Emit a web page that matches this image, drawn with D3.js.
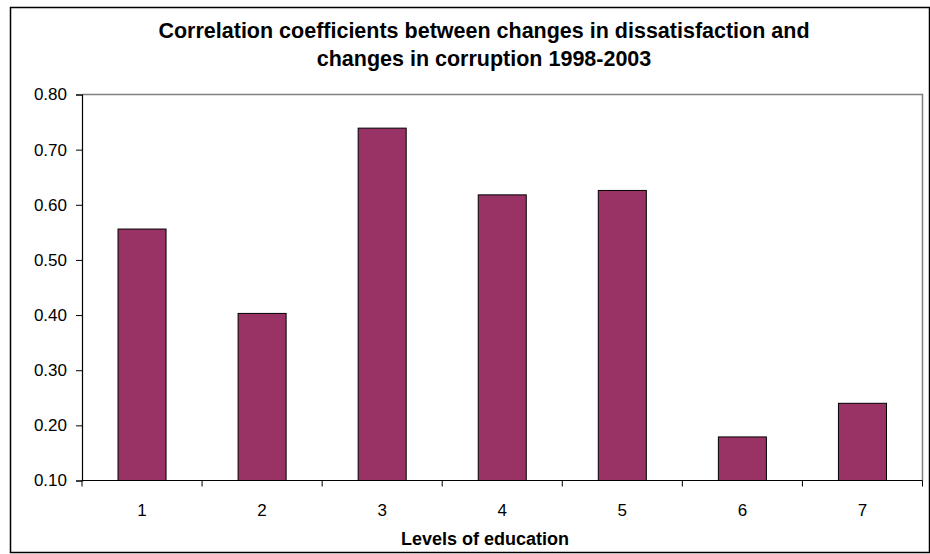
<!DOCTYPE html>
<html>
<head>
<meta charset="utf-8">
<script src="https://cdn.jsdelivr.net/npm/d3@7"></script>
<style>
  html, body { margin: 0; padding: 0; background: #fff; }
  svg { display: block; }
  text { font-family: "Liberation Sans", Arial, sans-serif; fill: #000; }
</style>
</head>
<body>
<svg id="chart" width="930" height="554"></svg>
<script>
// Correlation coefficients by level of education
const categories = ["1", "2", "3", "4", "5", "6", "7"];
const coefficients = [0.556, 0.403, 0.739, 0.618, 0.626, 0.179, 0.240];
const yTicks = [0.10, 0.20, 0.30, 0.40, 0.50, 0.60, 0.70, 0.80];
const titleLines = [
  "Correlation coefficients between changes in dissatisfaction and",
  "changes in corruption 1998-2003"
];
const xAxisTitle = "Levels of education";

const svg = d3.select("#chart");
const W = 930, H = 554;
const plot = { left: 82, top: 94.5, right: 922.5, bottom: 480.5 };

// outer chart frame
svg.append("rect")
  .attr("x", 10.5).attr("y", 7.5)
  .attr("width", W - 11).attr("height", H - 9)
  .attr("fill", "#fff").attr("stroke", "#000").attr("stroke-width", 1.5);

const x = d3.scaleBand()
  .domain(categories)
  .range([plot.left, plot.right])
  .paddingInner(0.6)
  .paddingOuter(0.3);

const y = d3.scaleLinear()
  .domain([0.10, 0.80])
  .range([plot.bottom, plot.top]);

// plot area frame (top and right edges)
svg.append("path")
  .attr("d", `M${plot.left},${plot.top}H${plot.right}V${plot.bottom}`)
  .attr("fill", "none").attr("stroke", "#808080").attr("stroke-width", 1.5);

// bars
svg.append("g").selectAll("rect")
  .data(coefficients)
  .join("rect")
  .attr("x", (d, i) => x(categories[i]))
  .attr("y", d => y(d))
  .attr("width", x.bandwidth())
  .attr("height", d => y(0.10) - y(d))
  .attr("fill", "#993366")
  .attr("stroke", "#000")
  .attr("stroke-width", 1);

// y axis
const yAxis = svg.append("g")
  .attr("transform", `translate(${plot.left},0)`)
  .call(d3.axisLeft(y).tickValues(yTicks).tickFormat(d3.format(".2f")).tickSizeOuter(0).tickSize(6).tickPadding(9));
yAxis.select(".domain").attr("stroke", "#000").attr("stroke-width", 1.2);
yAxis.selectAll(".tick line").attr("stroke", "#000");
yAxis.selectAll("text").attr("font-size", 17).attr("fill", "#000");

// x axis: tick marks sit between categories
const xAxis = svg.append("g")
  .attr("transform", `translate(0,${plot.bottom})`);
xAxis.append("line")
  .attr("x1", plot.left).attr("x2", plot.right)
  .attr("stroke", "#000").attr("stroke-width", 1.2);
const step = x.step();
const boundaries = categories.map(c => x(c) - step * 0.3).concat([plot.right]);
xAxis.selectAll(".bound")
  .data(boundaries)
  .join("line")
  .attr("class", "bound")
  .attr("x1", d => d).attr("x2", d => d)
  .attr("y1", 0).attr("y2", 6)
  .attr("stroke", "#000");
xAxis.selectAll(".lab")
  .data(categories)
  .join("text")
  .attr("class", "lab")
  .attr("x", d => x(d) + x.bandwidth() / 2)
  .attr("y", 35)
  .attr("text-anchor", "middle")
  .attr("font-size", 17)
  .text(d => d);

// axis title
svg.append("text")
  .attr("x", 485)
  .attr("y", 545)
  .attr("text-anchor", "middle")
  .attr("font-size", 18)
  .attr("font-weight", "bold")
  .text(xAxisTitle);

// chart title
svg.append("g").selectAll("text")
  .data(titleLines)
  .join("text")
  .attr("x", 484)
  .attr("y", (d, i) => 38 + i * 28)
  .attr("text-anchor", "middle")
  .attr("font-size", 21.5)
  .attr("font-weight", "bold")
  .text(d => d);
</script>
</body>
</html>
